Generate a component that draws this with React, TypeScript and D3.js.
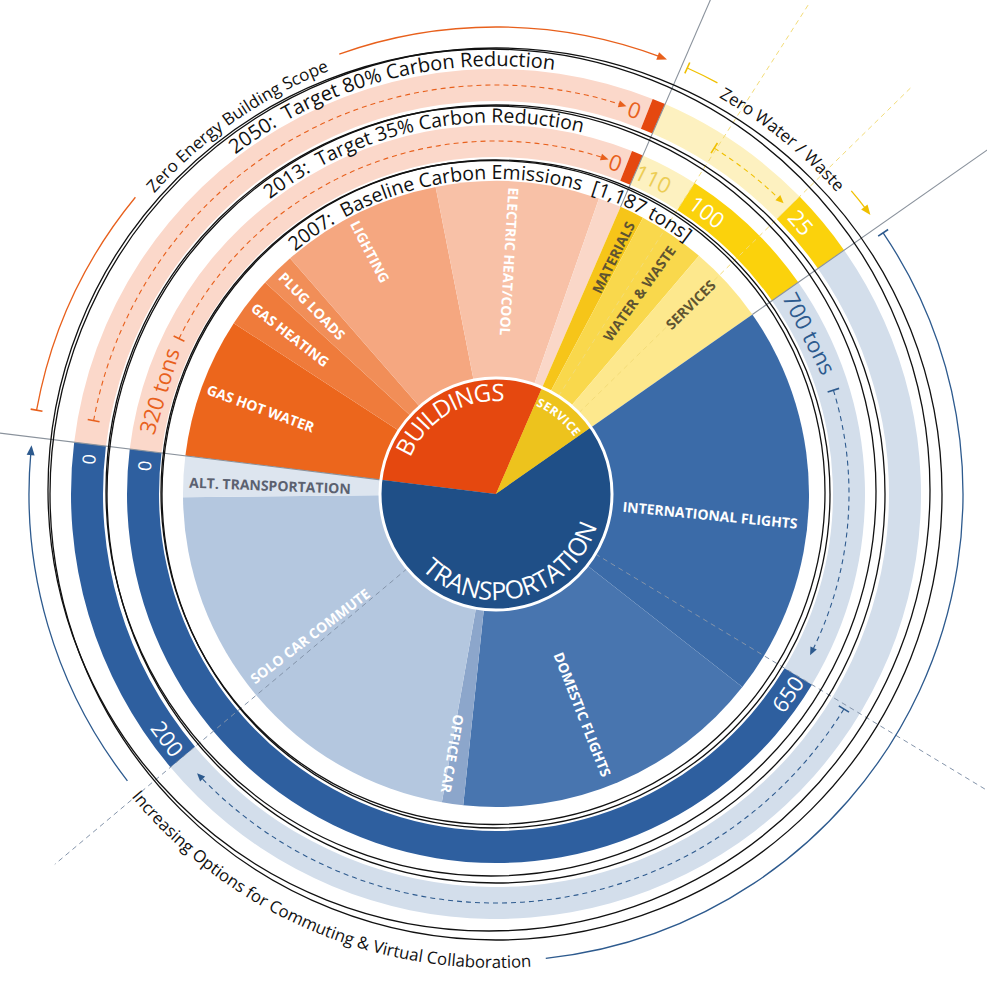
import React from 'react';
import * as d3 from 'd3';

const W = 987;
const H = 1000;

// ---------------- data (tons of CO2) ----------------
const TOTAL_TONS = 1187;
const groupNames = ['BUILDINGS', 'SERVICE', 'TRANSPORTATION'];

const buildingLabels = ['GAS HOT WATER', 'GAS HEATING', 'PLUG LOADS', 'LIGHTING', 'ELECTRIC HEAT/COOL', ''];
const buildingTons = [86, 31, 21, 99, 100, 14];

const serviceLabels = ['MATERIALS', 'WATER & WASTE', 'SERVICES'];
const serviceTons = [15, 41, 48];

const transportLabels = ['INTERNATIONAL FLIGHTS', 'DOMESTIC FLIGHTS', 'OFFICE CAR', 'SOLO CAR COMMUTE', 'ALT. TRANSPORTATION'];
const transportTons = [241, 191, 13, 262, 25];

const ringTitles = ['2007:  Baseline Carbon Emissions  [1,187 tons]', '2013:  Target 35% Carbon Reduction', '2050:  Target 80% Carbon Reduction'];
const ringTitleStart = [143, 150, 150];

// ring bands, positioned on the circular ton axis
const ring2013Bands = [
  { from: 0, to: 345, kind: 'pink' },
  { from: 345, to: 351, kind: 'orange' },
  { from: 351, to: 381, kind: 'paleYellow' },
  { from: 381, to: 455, kind: 'gold' },
  { from: 455, to: 673, kind: 'lightBlue' },
  { from: 673, to: 1187, kind: 'darkBlue' },
];
const ring2050Bands = [
  { from: 0, to: 345, kind: 'pink' },
  { from: 345, to: 351, kind: 'orange' },
  { from: 351, to: 424, kind: 'paleYellow' },
  { from: 424, to: 455, kind: 'gold' },
  { from: 455, to: 1032, kind: 'lightBlue' },
  { from: 1032, to: 1187, kind: 'darkBlue' },
];
const ring2013Labels = [
  { text: '320 tons', at: 33, kind: 'orange', dir: 1 },
  { text: '0', at: 339, kind: 'orange', dir: 1 },
  { text: '110', at: 361, kind: 'pale', dir: 1 },
  { text: '100', at: 395, kind: 'white', dir: 1 },
  { text: '700 tons', at: 481, kind: 'blue', dir: 1 },
  { text: '650', at: 684, kind: 'white', dir: -1 },
  { text: '0', at: 1179, kind: 'whiteSmall', dir: 1 },
];
const ring2050Labels = [
  { text: '0', at: 339, kind: 'orange', dir: 1 },
  { text: '25', at: 433, kind: 'white', dir: 1 },
  { text: '200', at: 1043, kind: 'white', dir: -1 },
  { text: '0', at: 1180, kind: 'whiteSmall', dir: 1 },
];
const ring2013Arrows = [
  { from: 63, to: 335, kind: 'orange' },
  { from: 514, to: 660, kind: 'blue' },
];
const ring2050Arrows = [
  { from: 11, to: 335, kind: 'orange' },
  { from: 380, to: 421, kind: 'yellow' },
  { from: 675, to: 1022, kind: 'blue' },
];
const outerScopes = [
  { text: 'Zero Energy Building Scope', from: 11, to: 344.5, gapFrom: 107, gapTo: 209, kind: 'orange', dir: 1 },
  { text: 'Zero Water / Waste', from: 353.4, to: 449.4, gapFrom: 367, gapTo: 437, kind: 'yellow', dir: 1 },
  { text: 'Increasing Options for Commuting & Virtual Collaboration', from: 458.3, to: 1183.7, gapFrom: 847, gapTo: 1039, kind: 'blue', dir: -1 },
];
const groupBoundaries = [0, 351, 455];
const scenarioDividers = [
  { at: 673, kind: 'blue', to: 800 },
  { at: 1032, kind: 'blue', to: 576 },
  { at: 381, kind: 'yellow', to: 582 },
  { at: 424, kind: 'yellow', to: 582 },
];

// ---------------- layout / styles ----------------
const hubLabelShiftDeg = [-1.5, 0, 0];
const sliceLabelNudgeDeg = [0, 0, 0, -1.3, -0.7, 0, 0.6, 1.3, -2, 4, 1.5, 1.5, 3, -1];
const CX = 496, CY = 494;
const START = (277 * Math.PI) / 180;
const R_HUB = 116, R_PIE = 313;
const R1_IN = 337, R1_OUT = 369, R2_IN = 393, R2_OUT = 425;
const R_SCOPE = 467;
const FONT = "'Open Sans', 'DejaVu Sans', sans-serif";

const buildingColors = ['#ec661c', '#ef7b3b', '#f18e58', '#f5a780', '#f8c1a7', '#fad7c8'];
const serviceColors = ['#f6c519', '#f9d84c', '#fde88d'];
const transportColors = ['#3b6ba8', '#4875af', '#8ca6cb', '#b4c7df', '#dde5ef'];
const hubColors = ['#e5480f', '#edc31d', '#1f4f87'];
const bandFill: Record<string, string> = {
  pink: '#fbd8ca', orange: '#e5480f', paleYellow: '#fdf1c0', gold: '#fbd20c', lightBlue: '#d3deeb', darkBlue: '#2e5f9f',
};
const labelFill: Record<string, string> = { orange: '#e8601c', pale: '#eccd55', white: '#ffffff', blue: '#2d5a8e', whiteSmall: '#ffffff' };
const lineColor: Record<string, string> = { orange: '#e8601c', yellow: '#f0c000', blue: '#2d5a8e' };
const dividerColor: Record<string, string> = { blue: '#8494aa', yellow: '#f3dc78' };
const titleSizes = [19.5, 19.5, 20];
const hubRadii = [93, 97, 106];
const hubFontSizes = [24, 12, 25];
const hubLetterSpacing = [-1, 0.5, 0];

export default function App() {
  const ang = d3.scaleLinear().domain([0, TOTAL_TONS]).range([START, START + 2 * Math.PI]);
  const pt = (a: number, r: number): [number, number] => [r * Math.sin(a), -r * Math.cos(a)];
  const deg = (a: number) => (a * 180) / Math.PI;
  const rad = (d: number) => (d * Math.PI) / 180;
  const norm = (d: number) => ((d % 360) + 360) % 360;
  const arcD = (a0: number, a1: number, r: number) => {
    const [x0, y0] = pt(a0, r);
    const [x1, y1] = pt(a1, r);
    const cw = a1 > a0;
    const large = Math.abs(a1 - a0) > Math.PI ? 1 : 0;
    return `M${x0},${y0}A${r},${r} 0 ${large} ${cw ? 1 : 0} ${x1},${y1}`;
  };
  const arrowHead = (a: number, r: number, dir: number, len = 8, half = 3.5) => {
    const tip = pt(a, r);
    const ab = a - (dir * len) / r;
    const b1 = pt(ab, r - half);
    const b2 = pt(ab, r + half);
    return `M${tip[0]},${tip[1]}L${b1[0]},${b1[1]}L${b2[0]},${b2[1]}Z`;
  };
  const tick = (a: number, r: number, h = 6) => {
    const p1 = pt(a, r - h), p2 = pt(a, r + h);
    return { x1: p1[0], y1: p1[1], x2: p2[0], y2: p2[1] };
  };

  const slices = [
    ...buildingLabels.map((l, i) => ({ label: l, tons: buildingTons[i], color: buildingColors[i], group: 0 })),
    ...serviceLabels.map((l, i) => ({ label: l, tons: serviceTons[i], color: serviceColors[i], group: 1 })),
    ...transportLabels.map((l, i) => ({ label: l, tons: transportTons[i], color: transportColors[i], group: 2 })),
  ];
  const groups = [d3.sum(buildingTons), d3.sum(serviceTons), d3.sum(transportTons)].map((t, i) => ({ name: groupNames[i], tons: t }));

  const pie = d3.pie<any>().value((d: any) => d.tons).sort(null).startAngle(START).endAngle(START + 2 * Math.PI);
  const sliceArcs = pie(slices);
  const groupArcs = pie(groups);
  const pieArc = d3.arc<any>().innerRadius(0).outerRadius(R_PIE);
  const hubArc = d3.arc<any>().innerRadius(0).outerRadius(R_HUB);
  const band = (rIn: number, rOut: number) => d3.arc<any>().innerRadius(rIn).outerRadius(rOut);

  const ringDefs = [
    { bands: ring2013Bands, labels: ring2013Labels, arrows: ring2013Arrows, rIn: R1_IN, rOut: R1_OUT },
    { bands: ring2050Bands, labels: ring2050Labels, arrows: ring2050Arrows, rIn: R2_IN, rOut: R2_OUT },
  ];

  const titleRadii = [315, 371.5, 428];
  // black ring circles: a concentric one and a slightly offset twin
  const circles = [
    { r: 334, dx: 0, dy: 0 }, { r: 332, dx: -3, dy: -1.5 },
    { r: 389, dx: 0, dy: 0 }, { r: 385, dx: -5, dy: -3 },
    { r: 446, dx: 0, dy: 0 }, { r: 441, dx: -7, dy: -4 },
  ];

  return (
    <div style={{ position: 'absolute', left: 0, top: 0 }}>
      <svg width={W} height={H} viewBox={`0 0 ${W} ${H}`} style={{ display: 'block', fontFamily: FONT }}>
        <rect width={W} height={H} fill="#ffffff" />
        <g transform={`translate(${CX},${CY})`}>
          {/* pie slices */}
          {sliceArcs.map((d, i) => (
            <path key={'s' + i} d={pieArc(d) as string} fill={d.data.color} />
          ))}

          {/* ring bands */}
          {ringDefs.map((rd, ri) =>
            rd.bands.map((b, bi) => (
              <path
                key={`b${ri}-${bi}`}
                d={band(rd.rIn, rd.rOut)({ startAngle: ang(b.from), endAngle: ang(b.to) }) as string}
                fill={bandFill[b.kind]}
              />
            ))
          )}

          {/* scenario dashed dividers */}
          {scenarioDividers.map((s, i) => {
            const p1 = pt(ang(s.at), R_HUB), p2 = pt(ang(s.at), s.to);
            return (
              <line key={'dv' + i} x1={p1[0]} y1={p1[1]} x2={p2[0]} y2={p2[1]} stroke={dividerColor[s.kind]}
                strokeWidth={1} strokeDasharray="5 4" />
            );
          })}

          {/* group boundary lines */}
          {groupBoundaries.map((t, i) => {
            const p1 = pt(ang(t), i === 0 ? R_HUB : R_PIE), p2 = pt(ang(t), 820);
            return <line key={'gb' + i} x1={p1[0]} y1={p1[1]} x2={p2[0]} y2={p2[1]} stroke="#8a929c" strokeWidth={1.1} />;
          })}

          {/* hub */}
          {groupArcs.map((d, i) => (
            <path key={'h' + i} d={hubArc(d) as string} fill={hubColors[i]} />
          ))}
          <circle r={R_HUB} fill="none" stroke="#ffffff" strokeWidth={3} />

          {/* slice labels */}
          {sliceArcs.map((d, i) => {
            if (!d.data.label) return null;
            const mid = (d.startAngle + d.endAngle) / 2 + rad(sliceLabelNudgeDeg[i] || 0);
            const md = norm(deg(mid));
            const outward = md > 10 && md < 200;
            const r = outward ? 303 : 307;
            const [x, y] = pt(mid, r);
            const rot = outward ? md - 90 : md + 90;
            const fill = d.data.group === 1 ? '#5f5431' : d.data.label === 'ALT. TRANSPORTATION' ? '#5b6170' : '#ffffff';
            return (
              <text key={'sl' + i} x={x} y={y} transform={`rotate(${rot},${x},${y})`} textAnchor={outward ? 'end' : 'start'}
                dominantBaseline="central" fontSize={14} fontWeight={700} fill={fill}>
                {d.data.label}
              </text>
            );
          })}

          {/* hub labels */}
          {groupArcs.map((d, i) => {
            const mid = (d.startAngle + d.endAngle) / 2 + rad(hubLabelShiftDeg[i]);
            const isBottom = i === 2;
            const r = hubRadii[i];
            const span = 1.4;
            const pd = isBottom ? arcD(mid + span, mid - span, r) : arcD(mid - span, mid + span, r);
            const id = 'hubpath' + i;
            return (
              <g key={'hl' + i}>
                <path id={id} d={pd} fill="none" />
                <text fontSize={hubFontSizes[i]} fontWeight={i === 1 ? 700 : 400} fill="#ffffff" letterSpacing={hubLetterSpacing[i]}>
                  <textPath href={'#' + id} startOffset="50%" textAnchor="middle">{d.data.name}</textPath>
                </text>
              </g>
            );
          })}

          {/* ring labels */}
          {ringDefs.map((rd, ri) =>
            rd.labels.map((l, li) => {
              const a = ang(l.at);
              const [x, y] = pt(a, (rd.rIn + rd.rOut) / 2);
              const rot = l.dir === 1 ? deg(a) : deg(a) + 180;
              return (
                <text key={`rl${ri}-${li}`} x={x} y={y} transform={`rotate(${rot},${x},${y})`} textAnchor="middle"
                  dominantBaseline="central" fontSize={l.kind === 'whiteSmall' ? 18 : 22} fill={labelFill[l.kind]}>
                  {l.text}
                </text>
              );
            })
          )}

          {/* ring dashed arrows */}
          {ringDefs.map((rd, ri) =>
            rd.arrows.map((ar, ai) => {
              const r = (rd.rIn + rd.rOut) / 2;
              const a0 = ang(ar.from), a1 = ang(ar.to);
              const t = tick(a0, r, 6);
              return (
                <g key={`ra${ri}-${ai}`} stroke={lineColor[ar.kind]} fill="none">
                  <line {...t} strokeWidth={1.6} />
                  <path d={arcD(a0, a1 - 6 / r, r)} strokeWidth={1.1} strokeDasharray="5 4" />
                  <path d={arrowHead(a1, r, 1, 8, 3.5)} fill={lineColor[ar.kind]} stroke="none" />
                </g>
              );
            })
          )}

          {/* black ring circles */}
          {circles.map((c, i) => (
            <circle key={'c' + i} cx={c.dx} cy={c.dy} r={c.r} fill="none" stroke="#111111" strokeWidth={1.3} />
          ))}

          {/* ring titles */}
          {ringTitles.map((t, i) => {
            const a0 = ang(ringTitleStart[i]);
            const id = 'title' + i;
            return (
              <g key={'rt' + i}>
                <path id={id} d={arcD(a0, a0 + 2.2, titleRadii[i])} fill="none" />
                <text fontSize={titleSizes[i]} fill="#111111" style={{ whiteSpace: 'pre' }}>
                  <textPath href={'#' + id} startOffset="0">{t}</textPath>
                </text>
              </g>
            );
          })}

          {/* outer scope arcs */}
          {outerScopes.map((s, i) => {
            const col = lineColor[s.kind];
            const t = tick(ang(s.from), R_SCOPE, 6);
            const c = ang((s.gapFrom + s.gapTo) / 2);
            const rText = s.dir === 1 ? 455 : 474;
            const id = 'scope' + i;
            const pd = s.dir === 1 ? arcD(c - 1.3, c + 1.3, rText) : arcD(c + 1.3, c - 1.3, rText);
            return (
              <g key={'os' + i}>
                <line {...t} stroke={col} strokeWidth={1.6} />
                <path d={arcD(ang(s.from), ang(s.gapFrom), R_SCOPE)} fill="none" stroke={col} strokeWidth={1.3} />
                <path d={arcD(ang(s.gapTo), ang(s.to) - 7 / R_SCOPE, R_SCOPE)} fill="none" stroke={col} strokeWidth={1.3} />
                <path d={arrowHead(ang(s.to), R_SCOPE, 1, 10, 4)} fill={col} />
                <path id={id} d={pd} fill="none" />
                <text fontSize={s.dir === 1 ? 17 : 16.8} fill="#111111">
                  <textPath href={'#' + id} startOffset="50%" textAnchor="middle">{s.text}</textPath>
                </text>
              </g>
            );
          })}
        </g>
      </svg>
    </div>
  );
}
